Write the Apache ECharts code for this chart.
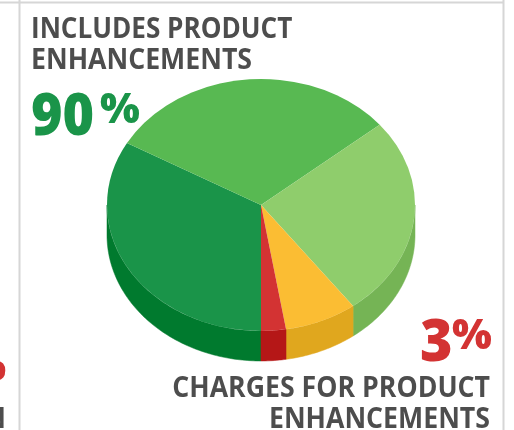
<!DOCTYPE html>
<html>
<head>
    <meta charset="utf-8">
    <title>Product enhancements</title>
    <script src="https://cdn.jsdelivr.net/npm/echarts@6/dist/echarts.min.js"></script>
    <style>
        html, body { margin: 0; padding: 0; background: #fff; }
        #chart { width: 514px; height: 430px; }
    </style>
</head>
<body>
<div id="chart"></div>

<script>
    var categories = ['Includes A', 'Includes B', 'Includes C', 'Other', 'Charges'];
    var values = [33.2, 30.8, 25.8, 7.6, 2.6];
    var topColors = ['#1a9449', '#58b952', '#8fcd6c', '#fbbd33', '#d33333'];
    var sideColors = ['#007a2e', '#007a2e', '#75b455', '#e0a71e', '#b51717'];

    var total = values.reduce(function (a, b) { return a + b; }, 0);
    var cx = 261, cy = 205, rx = 154, ry = 126, depth = 30;
    var first = 180; // dark green starts straight down, going clockwise
    var font = '"Open Sans", sans-serif';

    function rad(deg) {
        return deg * Math.PI / 180;
    }

    function renderSlice(params, api) {
        var i = params.dataIndex;
        var before = 0;
        for (var k = 0; k < i; k++) before += values[k];
        var a0 = first + before / total * 360;
        var a1 = a0 + api.value(1) / total * 360;
        var children = [];

        // the wall is only visible on the lower half of the ellipse
        var ranges = [[90, 270], [450, 630]];
        ranges.forEach(function (r) {
            var s = Math.max(a0, r[0]), e = Math.min(a1, r[1]);
            if (e <= s) return;
            var pts = [], n = Math.ceil(e - s) + 1, j, t;
            for (j = 0; j <= n; j++) {
                t = rad(s + (e - s) * j / n);
                pts.push([cx + rx * Math.sin(t), cy - ry * Math.cos(t)]);
            }
            for (j = n; j >= 0; j--) {
                t = rad(s + (e - s) * j / n);
                pts.push([cx + rx * Math.sin(t), cy - ry * Math.cos(t) + depth]);
            }
            children.push({
                type: 'polygon',
                shape: { points: pts },
                style: { fill: sideColors[i], stroke: sideColors[i], lineWidth: 0.5 }
            });
        });

        children.push({
            type: 'sector',
            x: cx,
            y: cy,
            scaleY: ry / rx,
            shape: { cx: 0, cy: 0, r0: 0, r: rx, startAngle: rad(a0 - 90), endAngle: rad(a1 - 90), clockwise: true },
            style: { fill: topColors[i] }
        });
        return { type: 'group', children: children };
    }

    function label(text, x, y, size, color, weight, sx, align) {
        return {
            type: 'text',
            x: x,
            y: y,
            scaleX: sx,
            style: { text: text, fill: color, font: weight + ' ' + size + 'px ' + font, textAlign: align || 'left', textVerticalAlign: 'bottom' }
        };
    }

    function frame(x1, y1, x2, y2) {
        return { type: 'line', shape: { x1: x1, y1: y1, x2: x2, y2: y2 }, style: { stroke: '#d6d6d6', lineWidth: 2 } };
    }

    var chart = echarts.init(document.getElementById('chart'));
    chart.setOption({
        animation: false,
        graphic: [
            frame(0, 2.5, 504, 2.5),
            frame(19.5, 0, 19.5, 430),
            frame(503.5, 0, 503.5, 430),
            label('INCLUDES PRODUCT', 31, 44, 29, '#4d4d4d', 700, 0.9),
            label('ENHANCEMENTS', 31, 75, 29, '#4d4d4d', 700, 0.92),
            label('90', 31, 147, 58, '#1a9449', 800, 0.93),
            label('%', 100, 132, 42, '#1a9449', 800, 1),
            label('3', 420, 373, 58, '#d33333', 800, 0.96),
            label('%', 452, 358, 42, '#d33333', 800, 1),
            label('CHARGES FOR PRODUCT', 490, 403, 29, '#4d4d4d', 700, 0.92, 'right'),
            label('ENHANCEMENTS', 490, 434, 29, '#4d4d4d', 700, 0.92, 'right'),
            label('%', 6, 389, 42, '#d33333', 800, 1, 'right'),
            label('N', 6, 434, 29, '#4d4d4d', 700, 0.92, 'right')
        ],
        series: [{
            type: 'custom',
            coordinateSystem: 'none',
            silent: true,
            data: categories.map(function (c, i) { return [c, values[i]]; }),
            renderItem: renderSlice
        }]
    });
</script>
</body>
</html>
